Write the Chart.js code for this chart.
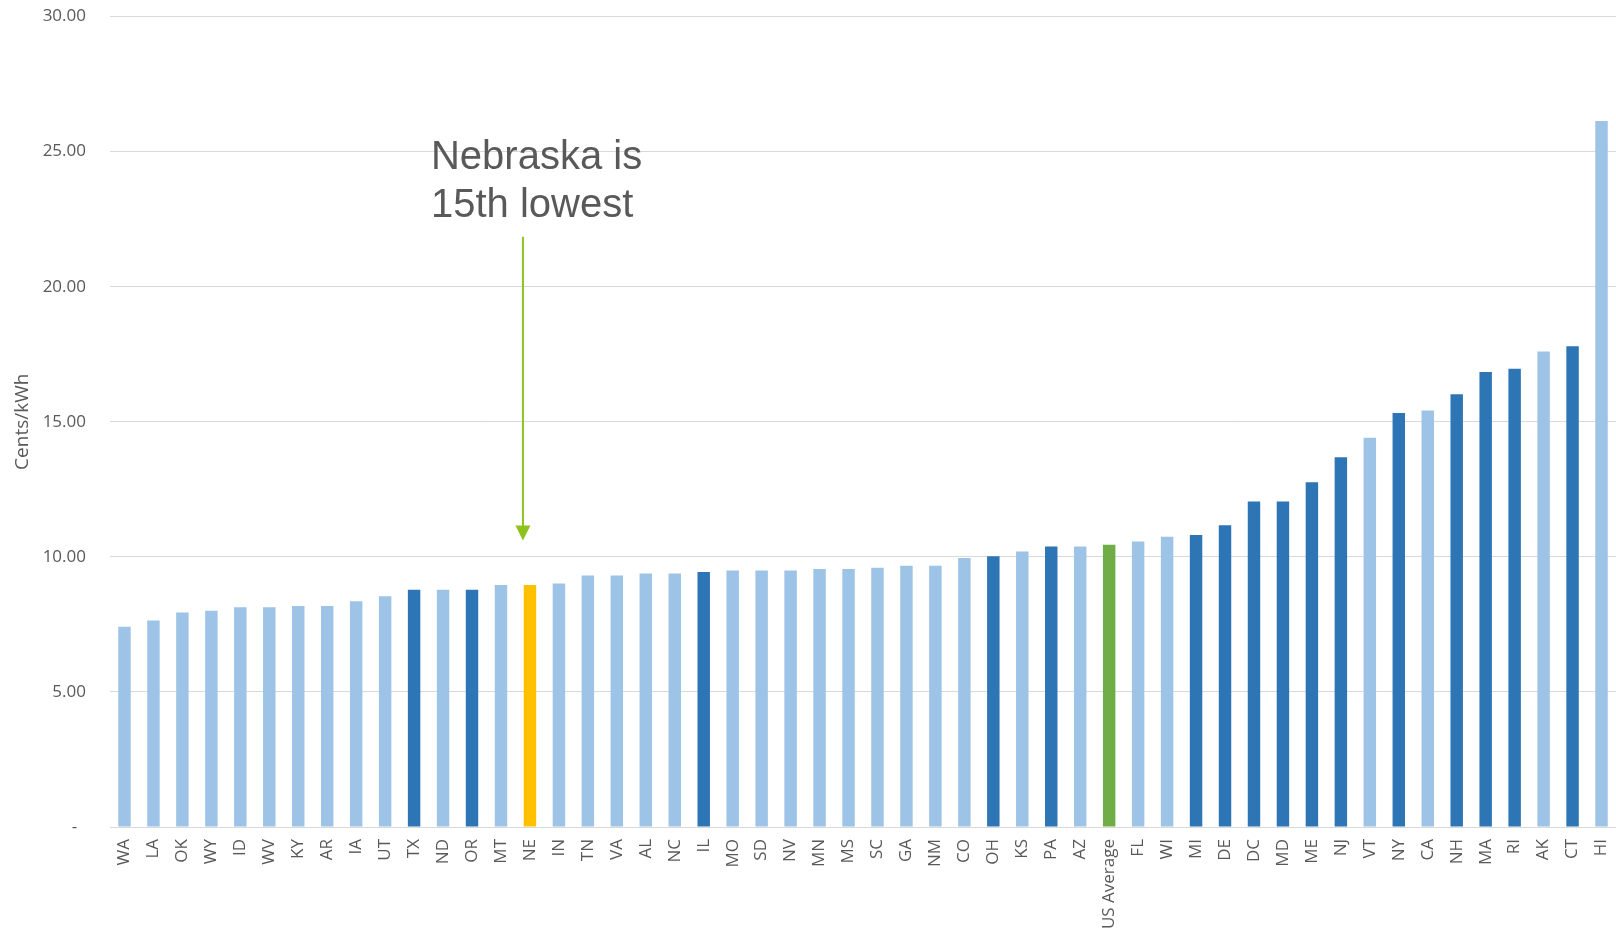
<!DOCTYPE html>
<html>
<head>
<meta charset="utf-8">
<script src="https://cdn.jsdelivr.net/npm/chart.js@4"></script>
<style>
  html, body { margin: 0; padding: 0; background: #ffffff; }
  #chart-canvas { display: block; }
</style>
</head>
<body>
<canvas id="chart-canvas" width="1616" height="931"></canvas>
<script>
// average retail price of electricity, cents/kWh, lowest to highest
var states = ['WA','LA','OK','WY','ID','WV','KY','AR','IA','UT','TX','ND','OR','MT','NE','IN',
  'TN','VA','AL','NC','IL','MO','SD','NV','MN','MS','SC','GA','NM','CO','OH','KS','PA','AZ',
  'US Average','FL','WI','MI','DE','DC','MD','ME','NJ','VT','NY','CA','NH','MA','RI','AK','CT','HI'];

var cents = [7.41, 7.64, 7.94, 8.00, 8.13, 8.13, 8.18, 8.18, 8.36, 8.54, 8.78, 8.78, 8.78, 8.96, 8.96, 9.01,
  9.31, 9.31, 9.38, 9.38, 9.44, 9.49, 9.49, 9.49, 9.55, 9.55, 9.60, 9.67, 9.67, 9.96, 10.02, 10.20, 10.38, 10.38,
  10.45, 10.57, 10.74, 10.81, 11.17, 12.05, 12.05, 12.76, 13.69, 14.41, 15.32, 15.42, 16.02, 16.84, 16.96, 17.60, 17.79, 26.13];

// states drawn in the darker blue
var darkStates = ['TX','OR','IL','OH','PA','MI','DE','DC','MD','ME','NJ','NY','NH','MA','RI','CT'];
var highlightState = 'NE';
var averageLabel = 'US Average';

var yMin = 0, yMax = 30, yStep = 5;

var noteLines = ['Nebraska is', '15th lowest'];
var arrowFrom = 21.85, arrowTo = 10.6;

var barColors = states.map(function (s) {
  if (s === highlightState) return '#FFC000';
  if (s === averageLabel) return '#70AD47';
  if (darkStates.indexOf(s) >= 0) return '#2E75B6';
  return '#9DC3E6';
});

var notePlugin = {
  id: 'note',
  afterDraw: function (chart) {
    var ctx = chart.ctx;
    var xs = chart.scales.x, ys = chart.scales.y;
    var x = xs.getPixelForValue(states.indexOf(highlightState)) - 7;
    var top = ys.getPixelForValue(arrowFrom);
    var tip = ys.getPixelForValue(arrowTo);
    ctx.save();
    ctx.strokeStyle = '#8DC21F';
    ctx.fillStyle = '#8DC21F';
    ctx.lineWidth = 2;
    ctx.beginPath();
    ctx.moveTo(x, top);
    ctx.lineTo(x, tip - 12);
    ctx.stroke();
    ctx.beginPath();
    ctx.moveTo(x - 7.5, tip - 15);
    ctx.lineTo(x + 7.5, tip - 15);
    ctx.lineTo(x, tip);
    ctx.closePath();
    ctx.fill();

    ctx.fillStyle = '#595959';
    ctx.font = '40px "Liberation Sans", Arial, sans-serif';
    ctx.textAlign = 'left';
    ctx.textBaseline = 'alphabetic';
    ctx.fillText(noteLines[0], x - 92, top - 68);
    ctx.fillText(noteLines[1], x - 92, top - 20);
    ctx.restore();
  }
};

var ctx = document.getElementById('chart-canvas').getContext('2d');

var chart = new Chart(ctx, {
  type: 'bar',
  data: {
    labels: states,
    datasets: [{
      label: 'Cents/kWh',
      data: cents,
      backgroundColor: barColors,
      borderWidth: 0,
      barPercentage: 0.43,
      categoryPercentage: 1
    }]
  },
  options: {
    responsive: false,
    animation: false,
    layout: { padding: { left: 7, top: 16.5, right: 0, bottom: 0 } },
    plugins: {
      legend: { display: false },
      tooltip: { enabled: false }
    },
    scales: {
      x: {
        // tick marks are invisible, their length only spaces the labels from the axis
        grid: { display: true, drawOnChartArea: false, tickLength: 12, tickColor: 'rgba(0,0,0,0)' },
        border: { display: true, color: '#D9D9D9', width: 1 },
        ticks: {
          autoSkip: false,
          maxRotation: 90,
          minRotation: 90,
          padding: 0,
          color: '#595959',
          font: { family: '"Open Sans", sans-serif', size: 17, lineHeight: 0.85 }
        },
        afterFit: function (scale) { scale.height = 104; }
      },
      y: {
        min: yMin,
        max: yMax,
        grid: { color: '#D9D9D9', lineWidth: 1, tickLength: 24, tickColor: 'rgba(0,0,0,0)' },
        border: { display: false },
        ticks: {
          stepSize: yStep,
          padding: 0,
          color: '#595959',
          font: { family: '"Open Sans", sans-serif', size: 17 },
          callback: function (v) { return v === 0 ? '-  ' : v.toFixed(2); }
        },
        title: {
          display: true,
          text: 'Cents/kWh',
          color: '#595959',
          font: { family: '"Open Sans", sans-serif', size: 19 },
          padding: { top: 4, bottom: 4 }
        },
        afterFit: function (scale) { scale.width = 103; }
      }
    }
  },
  plugins: [notePlugin]
});
</script>
</body>
</html>
